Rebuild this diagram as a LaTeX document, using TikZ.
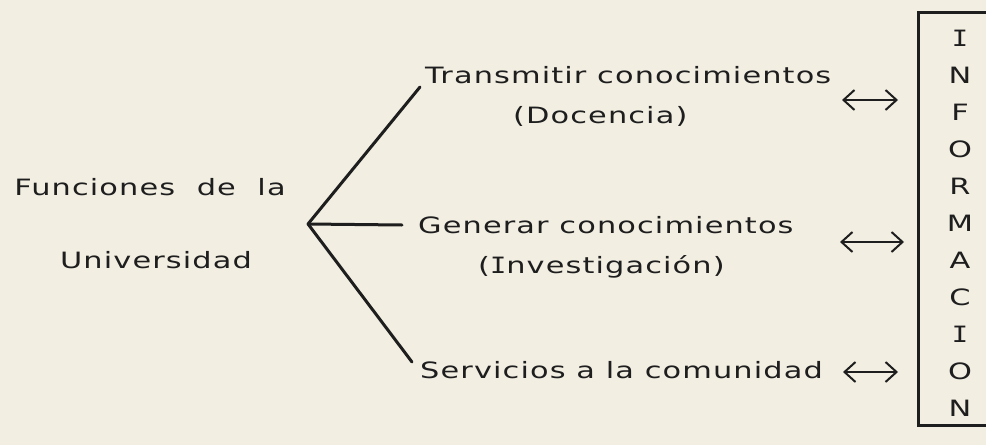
\documentclass[tikz,border=0pt]{standalone}
\usepackage{fontspec}
\setmainfont{DejaVu Sans}[FakeStretch=1.35,LetterSpace=5]
\newfontfamily\serifI{DejaVu Sans Mono}[FakeStretch=1.2]
\newcommand{\capI}{{\serifI I}}
\usetikzlibrary{arrows.meta}
\definecolor{paper}{HTML}{F2EEE2}
\definecolor{ink}{HTML}{1E1E1E}
\begin{document}
\begin{tikzpicture}[x=1pt,y=-1pt,
  txt/.style={inner sep=0pt, anchor=base west, text=ink, font=\fontsize{22.5}{26}\selectfont},
  boxletter/.style={inner sep=0pt, anchor=center, text=ink, font=\fontsize{22.5}{26}\selectfont},
  link/.style={draw=ink, line width=3pt, line cap=round},
  frame/.style={draw=ink, line width=3pt},
  biarrow/.style={draw=ink, line width=2pt, {Straight Barb[length=11pt,width=20pt]}-{Straight Barb[length=11pt,width=20pt]}}]
\fill[paper] (0,0) rectangle (986,445);
\useasboundingbox (0,0) rectangle (986,445);
\clip (0,0) rectangle (986,445);
% left labels
\node[txt, anchor=base] (f1) at (150,195) {Funciones\ \ de\ \ la};
\node[txt, anchor=base] (f2) at (156,268) {Universidad};
% branch texts
\node[txt] (t1) at (425,83) {Transmitir conocimientos};
\node[txt] (d1) at (513,123) {(Docencia)};
\node[txt] (t2) at (418,233) {Generar conocimientos};
\node[txt] (d2) at (478,273) {(\capI nvestigación)};
\node[txt] (t3) at (420,378) {Servicios a la comunidad};
% branch lines
\coordinate (v) at (308,224);
\coordinate (e1) at (420,87);
\coordinate (e2) at (402,225);
\coordinate (e3) at (412,362);
\draw[link] (v) -- (e1);
\draw[link] (v) -- (e2);
\draw[link] (v) -- (e3);
% arrows
\coordinate (a1l) at (842,100); \coordinate (a1r) at (898,100);
\coordinate (a2l) at (840,242); \coordinate (a2r) at (904,242);
\coordinate (a3l) at (843,372); \coordinate (a3r) at (898,372);
\draw[biarrow] (a1l) -- (a1r);
\draw[biarrow] (a2l) -- (a2r);
\draw[biarrow] (a3l) -- (a3r);
% box
\coordinate (bt) at (1000,12);
\coordinate (btl) at (918,12);
\coordinate (bbl) at (918,425);
\coordinate (bb) at (1000,425);
\draw[frame] (bt) -- (btl) -- (bbl) -- (bb);
\foreach \l [count=\i] in {\capI,N,F,O,R,M,A,C,\capI,O,N}
  \node[boxletter] (L\i) at (960,1+37*\i) {\l};
\end{tikzpicture}
\end{document}
